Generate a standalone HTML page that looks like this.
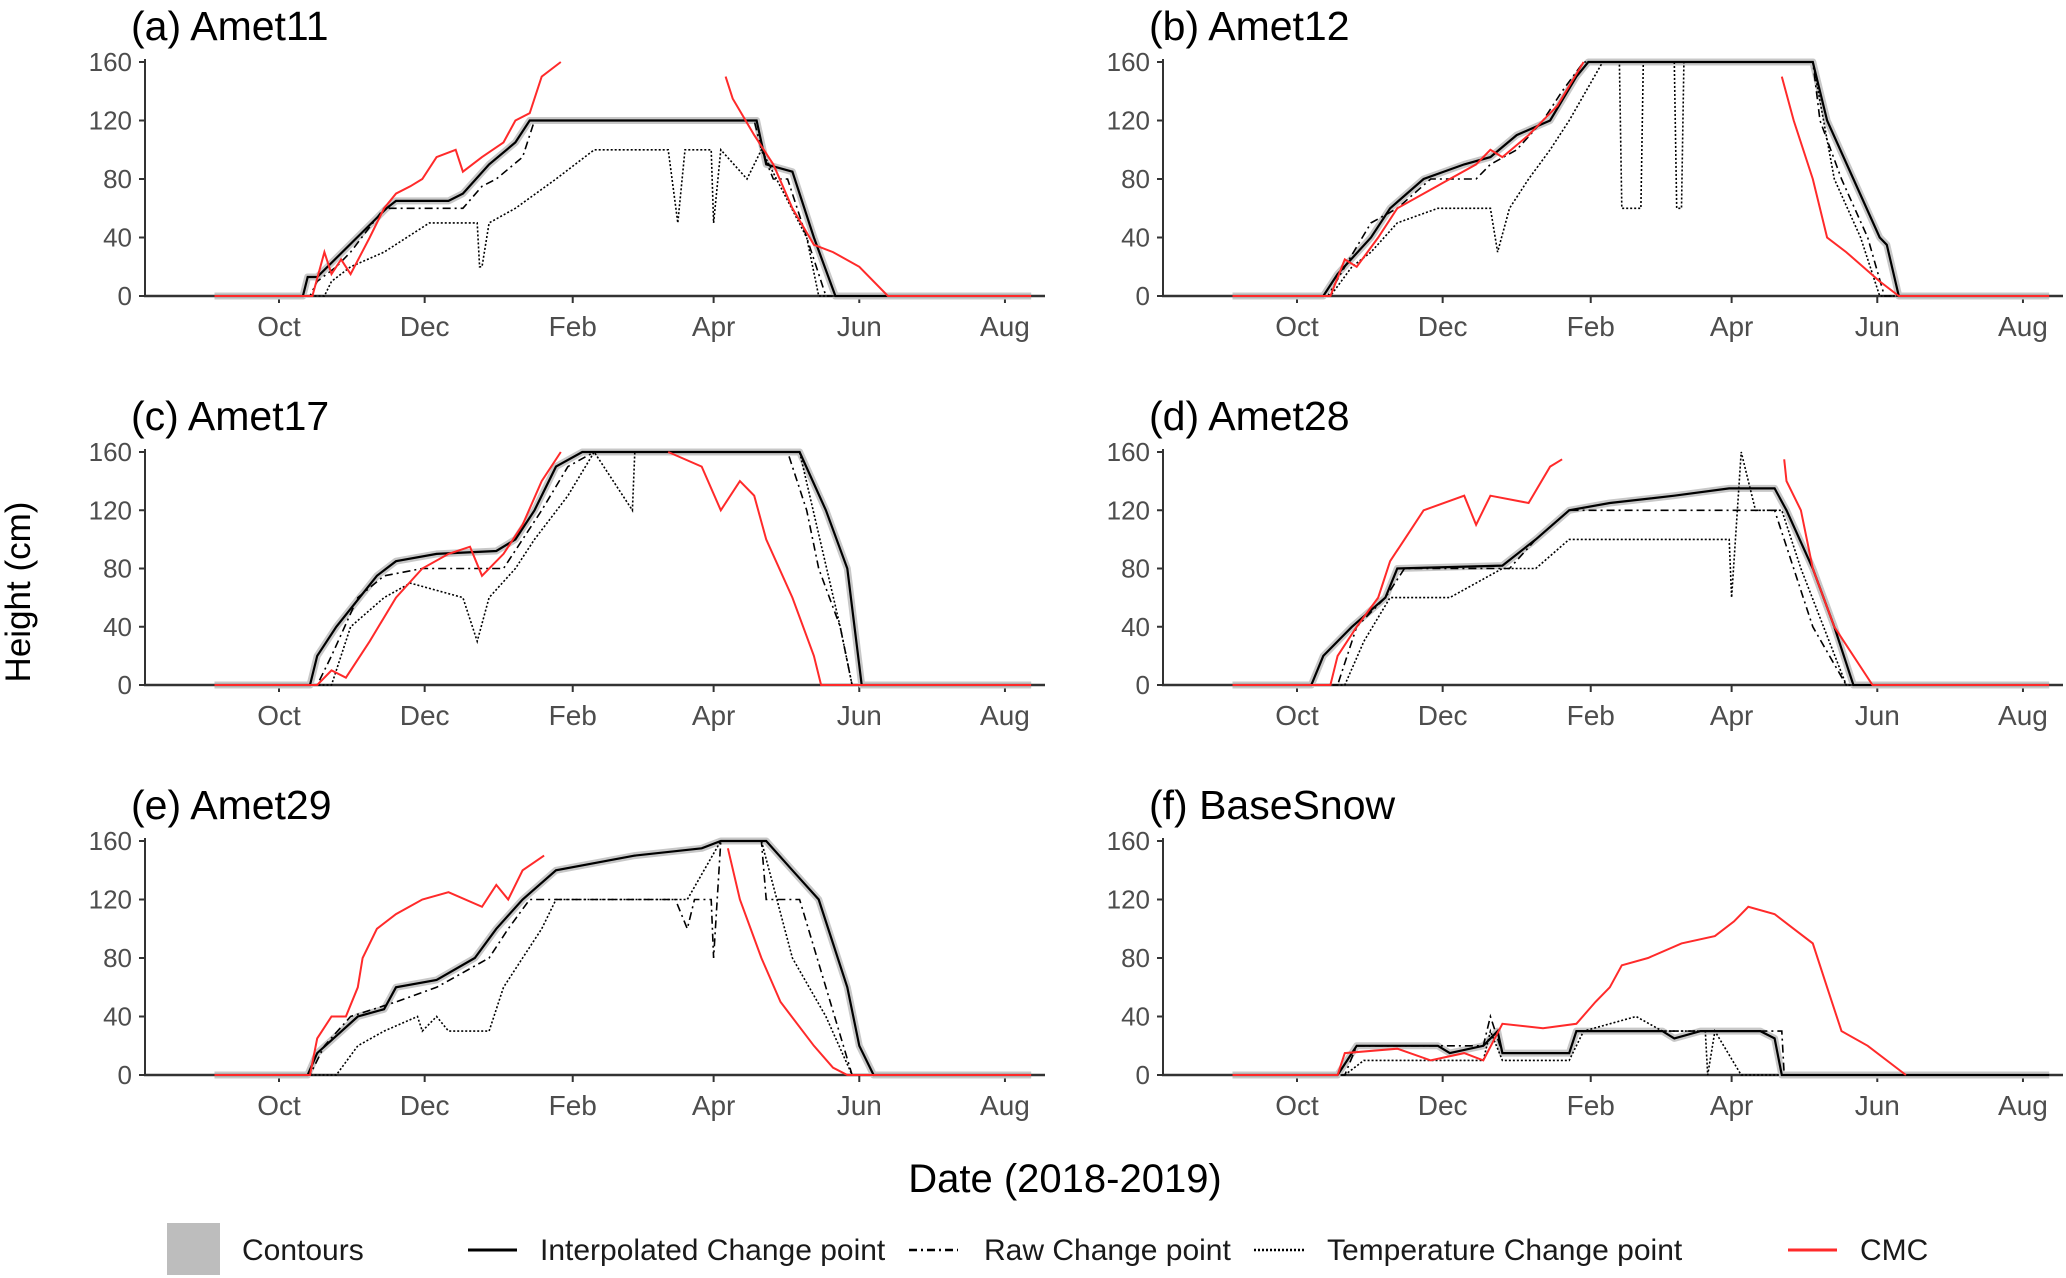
<!DOCTYPE html>
<html><head><meta charset="utf-8"><style>
html,body{margin:0;padding:0;background:#fff;}
svg{display:block;font-family:"Liberation Sans",sans-serif;}
</style></head><body>
<svg id="chart" width="2066" height="1278" viewBox="0 0 2066 1278" xmlns="http://www.w3.org/2000/svg">
<text x="30" y="592" font-size="35" fill="#000" text-anchor="middle" transform="rotate(-90 30 592)">Height (cm)</text>
<text x="1065" y="1192" font-size="40" fill="#000" text-anchor="middle">Date (2018-2019)</text>
<g>
 <g><rect x="167" y="1223" width="53" height="52" fill="#bdbdbd"/><text x="242" y="1260" font-size="30" fill="#1a1a1a">Contours</text></g>
 <g><line x1="468" y1="1250" x2="517" y2="1250" stroke="#000" stroke-width="3"/><text x="540" y="1260" font-size="30" fill="#1a1a1a">Interpolated Change point</text></g>
 <g><line x1="909" y1="1250" x2="958" y2="1250" stroke="#000" stroke-width="2.5" stroke-dasharray="8,4,2,4"/><text x="984" y="1260" font-size="30" fill="#1a1a1a">Raw Change point</text></g>
 <g><line x1="1254" y1="1250" x2="1304" y2="1250" stroke="#000" stroke-width="2.5" stroke-dasharray="2,2"/><text x="1327" y="1260" font-size="30" fill="#1a1a1a">Temperature Change point</text></g>
 <g><line x1="1788" y1="1250" x2="1837" y2="1250" stroke="#ff2a2a" stroke-width="3"/><text x="1860" y="1260" font-size="30" fill="#1a1a1a">CMC</text></g>
</g>
</svg>
<script>
// x in day-of-season (day 0 = 2018-08-01); y in cm
const monthLabels = ["Oct","Dec","Feb","Apr","Jun","Aug"];
const monthDays = [61,122,184,243,304,365];
const yTicks = [0,40,80,120,160];
const panelTitles = ["(a) Amet11","(b) Amet12","(c) Amet17","(d) Amet28","(e) Amet29","(f) BaseSnow"];

const aInterpD=[34,71,73,77,106,110,132,138,149,160,166,261,265,276,285,294,376];
const aInterpV=[0,0,13,13,60,65,65,70,90,105,120,120,90,85,40,0,0];
const aCmcD=[34,75,80,83,87,91,99,105,110,116,121,127,135,138,146,155,160,166,171,179,180,248,251,260,268,276,285,293,304,316,376];
const aCmcV=[0,0,30,15,25,15,40,60,70,75,80,95,100,85,95,105,120,125,150,160,null,150,135,110,90,60,35,30,20,0,0];
const aRawD=[34,74,77,85,91,105,138,146,152,163,168,260,263,268,274,282,290,376];
const aRawV=[0,0,10,20,30,60,60,75,80,95,120,120,100,80,80,40,0,0];
const aTempD=[34,80,83,91,105,124,144,145,146,149,160,177,193,224,228,231,242,243,246,257,263,282,287,376];
const aTempV=[0,0,10,20,30,50,50,20,20,50,60,80,100,100,50,100,100,50,100,80,100,40,0,0];

const bInterpD=[34,72,78,92,100,114,131,142,153,167,178,183,277,283,294,305,308,313,376];
const bInterpV=[0,0,15,40,60,80,90,95,110,120,150,160,160,120,80,40,35,0,0];
const bCmcD=[34,75,81,86,95,103,114,125,136,142,147,158,170,181,182,264,269,277,283,291,305,313,376];
const bCmcV=[0,0,25,20,40,60,70,80,90,100,95,110,130,160,null,150,120,80,40,30,10,0,0];
const bRawD=[34,74,81,92,103,117,136,142,153,164,172,181,277,280,289,300,307,376];
const bRawV=[0,0,20,50,60,80,80,90,100,120,140,160,160,120,80,40,0,0];
const bTempD=[34,75,84,92,103,120,142,145,150,158,167,175,189,196,197,205,206,219,220,222,223,277,286,297,305,376];
const bTempV=[0,0,20,30,50,60,60,30,60,80,100,120,160,160,60,60,160,160,60,60,160,160,80,40,0,0];

const cInterpD=[34,74,77,85,102,110,127,152,160,168,177,188,279,290,299,305,376];
const cInterpV=[0,0,20,40,75,85,90,92,100,120,150,160,160,120,80,0,0];
const cCmcD=[34,77,83,89,99,110,121,132,141,146,155,163,171,179,180,224,238,246,254,260,265,276,285,288,376];
const cCmcV=[0,0,10,5,30,60,80,90,95,75,90,110,140,160,null,160,150,120,140,130,100,60,20,0,0];
const cRawD=[34,77,83,94,105,121,155,163,171,182,193,274,282,287,296,301,376];
const cRawV=[0,0,20,60,75,80,80,100,120,150,160,160,120,80,40,0,0];
const cTempD=[34,83,91,105,116,138,144,149,160,168,182,193,209,210,211,279,296,301,376];
const cTempV=[0,0,40,60,70,60,30,60,80,100,130,160,120,160,160,160,40,0,0];

const dInterpD=[34,67,72,84,98,103,147,161,175,192,219,242,261,266,277,286,294,376];
const dInterpV=[0,0,20,40,60,80,82,100,120,125,130,135,135,120,80,40,0,0];
const dCmcD=[34,75,78,86,95,100,106,114,131,136,142,158,167,172,173,265,266,272,277,286,302,376];
const dCmcV=[0,0,20,40,60,85,100,120,130,110,130,125,150,155,null,155,140,120,80,40,0,0];
const dRawD=[34,78,86,98,106,150,161,175,261,269,277,291,376];
const dRawV=[0,0,40,60,80,80,100,120,120,80,40,0,0];
const dTempD=[34,81,89,100,125,147,161,175,242,243,247,253,264,272,291,376];
const dTempV=[0,0,30,60,60,80,80,100,100,60,160,120,120,80,0,0];

const eInterpD=[34,73,77,94,105,110,127,143,152,163,177,210,238,246,265,276,287,299,304,310,376];
const eInterpV=[0,0,15,40,45,60,65,80,100,120,140,150,155,160,160,140,120,60,20,0,0];
const eCmcD=[34,74,77,83,89,94,96,102,110,121,132,146,152,157,163,172,173,249,254,263,271,285,293,299,376];
const eCmcV=[0,0,25,40,40,60,80,100,110,120,125,115,130,120,140,150,null,155,120,80,50,20,5,0,0];
const eRawD=[34,74,80,91,110,127,149,157,166,227,232,235,242,243,246,263,265,279,290,301,376];
const eRawV=[0,0,20,40,50,60,80,100,120,120,100,120,120,80,160,160,120,120,60,0,0];
const eTempD=[34,85,94,105,119,121,127,132,149,155,163,171,177,232,246,263,276,290,301,376];
const eTempV=[0,0,20,30,40,30,40,30,30,60,80,100,120,120,160,160,80,40,0,0];

const fInterpD=[34,78,86,120,125,139,145,147,175,178,214,219,230,255,261,264,376];
const fInterpV=[0,0,20,20,15,20,30,15,15,30,30,25,30,30,25,0,0];
const fCmcD=[34,78,81,103,117,131,139,147,164,178,186,192,197,208,222,236,244,250,261,269,277,283,289,300,316];
const fCmcV=[0,0,15,18,10,15,10,35,32,35,50,60,75,80,90,95,105,115,110,100,90,60,30,20,0];
const fRawD=[34,81,86,139,142,147,175,178,264,265,376];
const fRawV=[0,0,20,20,40,15,15,30,30,0,0];
const fTempD=[34,81,89,139,142,147,175,181,203,214,232,233,236,247,255,376];
const fTempV=[0,0,10,10,30,10,10,30,40,30,30,0,30,0,0,0];

const panelSeries=[
 [aInterpD,aInterpV,aCmcD,aCmcV,aRawD,aRawV,aTempD,aTempV],
 [bInterpD,bInterpV,bCmcD,bCmcV,bRawD,bRawV,bTempD,bTempV],
 [cInterpD,cInterpV,cCmcD,cCmcV,cRawD,cRawV,cTempD,cTempV],
 [dInterpD,dInterpV,dCmcD,dCmcV,dRawD,dRawV,dTempD,dTempV],
 [eInterpD,eInterpV,eCmcD,eCmcV,eRawD,eRawV,eTempD,eTempV],
 [fInterpD,fInterpV,fCmcD,fCmcV,fRawD,fRawV,fTempD,fTempV]
];

const NS="http://www.w3.org/2000/svg";
const svg=document.getElementById('chart');
function mk(tag,attrs,parent){const e=document.createElementNS(NS,tag);for(const k in attrs)e.setAttribute(k,attrs[k]);(parent||svg).appendChild(e);return e;}
const rowY0=[296,685,1075], rowY160=[62,452,841];
function pathD(D,V,xs,ys){let s="",pen=false;for(let i=0;i<D.length;i++){if(V[i]===null){pen=false;continue;}s+=(pen?"L":"M")+xs(D[i]).toFixed(1)+","+ys(V[i]).toFixed(1);pen=true;}return s;}

panelTitles.forEach((title,p)=>{
 const col=p%2,row=Math.floor(p/2);
 const off=col*1018;
 const xs=d=>279+off+(d-61)*2.388;
 const y0=rowY0[row],y1=rowY160[row];
 const ys=v=>y0-(v/160)*(y0-y1);
 const g=mk('g',{});
 
 
 const t=mk('text',{x:131+off,y:y1-22,'font-size':41,fill:'#000'},g);t.textContent=title;
 
 
 const ya=mk('line',{x1:145+off,x2:145+off,y1:y1-3,y2:y0,stroke:'#333','stroke-width':2},g);
 
 
 yTicks.forEach(v=>{
  mk('line',{x1:139+off,x2:145+off,y1:ys(v),y2:ys(v),stroke:'#333','stroke-width':2},g);
  const tl=mk('text',{x:132+off,y:ys(v)+9,'font-size':26,fill:'#4d4d4d','text-anchor':'end'},g);tl.textContent=v;
  
  
 });
 const xa=mk('line',{x1:144+off,x2:1045+off,y1:y0,y2:y0,stroke:'#333','stroke-width':2.5},g);
 
 
 monthDays.forEach((d,i)=>{
  mk('line',{x1:xs(d),x2:xs(d),y1:y0,y2:y0+7,stroke:'#333','stroke-width':2},g);
  const tl=mk('text',{x:xs(d),y:y0+40,'font-size':28,fill:'#4d4d4d','text-anchor':'middle'},g);tl.textContent=monthLabels[i];
  
  
 });
 const s=panelSeries[p];
 const cont=mk('path',{d:pathD(s[0],s[1],xs,ys),fill:'none',stroke:'#c8c8c8','stroke-width':7,'stroke-linejoin':'round'},g);
 
 
 const tmp=mk('path',{d:pathD(s[6],s[7],xs,ys),fill:'none',stroke:'#000','stroke-width':1.6,'stroke-dasharray':'2,2'},g);
 
 
 const raw=mk('path',{d:pathD(s[4],s[5],xs,ys),fill:'none',stroke:'#000','stroke-width':1.6,'stroke-dasharray':'8,4,2,4'},g);
 
 
 const itp=mk('path',{d:pathD(s[0],s[1],xs,ys),fill:'none',stroke:'#000','stroke-width':2.2},g);
 
 
 const cmc=mk('path',{d:pathD(s[2],s[3],xs,ys),fill:'none',stroke:'#ff2a2a','stroke-width':2},g);
 
 
});
</script>
</body></html>
